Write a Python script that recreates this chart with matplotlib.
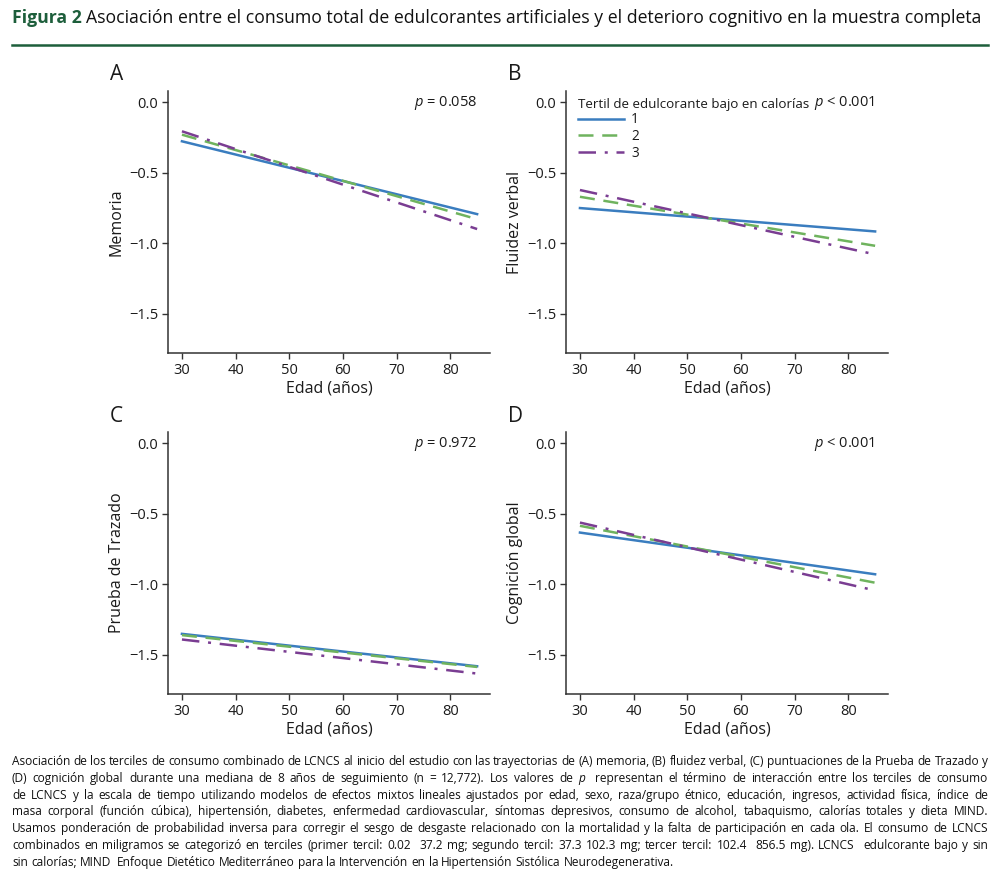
import matplotlib
matplotlib.use("Agg")
import matplotlib.pyplot as plt
from matplotlib.lines import Line2D

plt.rcParams["font.family"] = ["Open Sans", "DejaVu Sans"]
plt.rcParams["mathtext.fontset"] = "custom"
plt.rcParams["mathtext.it"] = "Open Sans:italic"

# values: fitted trajectories at the youngest / oldest age
AGES = [30, 85]
PANELS = ["A", "B", "C", "D"]
YLABELS = ["Memoria", "Fluidez verbal", "Prueba de Trazado", "Cognición global"]
PVALUES = ["= 0.058", "< 0.001", "= 0.972", "< 0.001"]
TERTILE_1 = [[-0.277, -0.794], [-0.751, -0.917], [-1.353, -1.583], [-0.634, -0.930]]
TERTILE_2 = [[-0.230, -0.830], [-0.671, -1.019], [-1.362, -1.588], [-0.586, -0.990]]
TERTILE_3 = [[-0.206, -0.900], [-0.623, -1.080], [-1.393, -1.635], [-0.563, -1.045]]
TERTILE_LABELS = ["1", "2", "3"]
YTICKS = [0.0, -0.5, -1.0, -1.5]
XTICKS = [30, 40, 50, 60, 70, 80]

TITLE_BOLD = "Figura 2"
TITLE_TEXT = ("Asociación entre el consumo total de edulcorantes artificiales y el "
              "deterioro cognitivo en la muestra completa")
# a double space marks a glyph missing in the original (an extra gap); * = italic word
CAPTION_LINES = [
    "Asociación de los terciles de consumo combinado de LCNCS al inicio del estudio con las trayectorias de (A) memoria, (B) fluidez verbal, (C) puntuaciones de la Prueba de Trazado y",
    "(D) cognición global durante una mediana de 8 años de seguimiento (n = 12,772). Los valores de *p  representan el término de interacción entre los terciles de consumo",
    "de LCNCS y la escala de tiempo utilizando modelos de efectos mixtos lineales ajustados por edad, sexo, raza/grupo étnico, educación, ingresos, actividad física, índice de",
    "masa corporal (función cúbica), hipertensión, diabetes, enfermedad cardiovascular, síntomas depresivos, consumo de alcohol, tabaquismo, calorías totales y dieta MIND.",
    "Usamos ponderación de probabilidad inversa para corregir el sesgo de desgaste relacionado con la mortalidad y la falta de participación en cada ola. El consumo de LCNCS",
    "combinados en miligramos se categorizó en terciles (primer tercil: 0.02  37.2 mg; segundo tercil: 37.3 102.3 mg; tercer tercil: 102.4  856.5 mg). LCNCS  edulcorante bajo y sin",
    "sin calorías; MIND  Enfoque Dietético Mediterráneo para la Intervención en la Hipertensión Sistólica Neurodegenerativa.",
]

GREEN_DARK = "#1d5e3b"
TEXT = "#1a1a1a"
COLORS = ["#3a7dbf", "#6fb35e", "#7a3d92"]
STYLES = ["-", (0, (6, 3.5)), (0, (7, 3.5, 1.2, 3.5))]

W, H = 1000, 872
fig = plt.figure(figsize=(W / 100, H / 100), dpi=100)

lefts = [168, 566, 168, 566]
tops = [91, 91, 432, 432]
aw, ah = 322, 262

for i, panel in enumerate(PANELS):
    ax = fig.add_axes([lefts[i] / W, 1 - (tops[i] + ah) / H, aw / W, ah / H])
    series = [TERTILE_1[i], TERTILE_2[i], TERTILE_3[i]]
    for vals, color, ls, lab in zip(series, COLORS, STYLES, TERTILE_LABELS):
        ax.plot(AGES, vals, color=color, linestyle=ls, lw=1.8, label=lab)
    ax.set_xlim(27.4, 87.4)
    ax.set_ylim(-1.78, 0.08)
    ax.set_xticks(XTICKS)
    ax.set_yticks(YTICKS)
    ax.set_yticklabels([f"{t:.1f}".replace("-", "\u2212") for t in YTICKS])
    for side in ("top", "right"):
        ax.spines[side].set_visible(False)
    for side in ("left", "bottom"):
        ax.spines[side].set_linewidth(1.1)
        ax.spines[side].set_color("#333333")
    ax.tick_params(labelsize=10.5, length=4, width=1.0, color="#333333", labelcolor=TEXT, pad=3)
    ax.set_xlabel("Edad (años)", fontsize=11.5, labelpad=2, color=TEXT)
    ax.set_ylabel(YLABELS[i], fontsize=11.5, labelpad=3, color=TEXT)
    ax.text(0.96, 0.955, "$p$ " + PVALUES[i], transform=ax.transAxes, ha="right", va="center",
            fontsize=10.5, color=TEXT)
    fig.text((lefts[i] - 58) / W, 1 - (tops[i] - 16) / H, panel, fontsize=15, va="center",
             ha="left", color=TEXT)
    if panel == "B":
        handles = [Line2D([], [], color=c, linestyle=s, lw=1.8) for c, s in zip(COLORS, STYLES)]
        leg = ax.legend(handles, TERTILE_LABELS, title="Tertil de edulcorante bajo en calorías",
                        loc="upper left", bbox_to_anchor=(0.012, 1.005), frameon=False,
                        fontsize=9.8, title_fontsize=9.6, handlelength=3.4, handletextpad=0.5,
                        labelspacing=0.12, borderaxespad=0.2)
        leg._legend_box.align = "left"
        for t in leg.get_texts():
            t.set_color(TEXT)
        leg.get_title().set_color(TEXT)

fig.canvas.draw()
renderer = fig.canvas.get_renderer()


def text_width(s, **kw):
    probe = fig.text(0, 0, s, **kw)
    width = probe.get_window_extent(renderer).width
    probe.remove()
    return width


# title and green rule
fig.text(12 / W, 1 - 23 / H, TITLE_BOLD, fontsize=12.7, fontweight="bold",
         color=GREEN_DARK, va="baseline", ha="left")
bw = text_width(TITLE_BOLD, fontsize=12.7, fontweight="bold")
fig.text((12 + bw + 4) / W, 1 - 23 / H, TITLE_TEXT, fontsize=12.7, color="#111111",
         va="baseline", ha="left")
fig.add_artist(Line2D([12 / W, 988 / W], [1 - 45 / H, 1 - 45 / H], color=GREEN_DARK, lw=1.8))

# justified caption, word by word
x0, x1 = 12, 988
cap_size = 8.6
space = text_width("a a", fontsize=cap_size) - 2 * text_width("a", fontsize=cap_size)
for li, line in enumerate(CAPTION_LINES):
    y = 1 - (765 + li * 16.8) / H
    words = ["" if w == "\x00" else w for w in line.replace("  ", " \x00 ").split(" ")]
    arts, widths = [], []
    for w in words:
        style = "normal"
        if w.startswith("*"):
            w, style = w[1:], "italic"
        t = fig.text(0, y, w, fontsize=cap_size, style=style, va="baseline", ha="left",
                     color="#111111")
        arts.append(t)
        widths.append(t.get_window_extent(renderer).width if w else 0.0)
    last = li == len(CAPTION_LINES) - 1
    gap = space if last else (x1 - x0 - sum(widths)) / (len(words) - 1)
    x = x0
    for t, wd in zip(arts, widths):
        t.set_x(x / W)
        x += wd + gap

fig.savefig("out.png", dpi=100)
